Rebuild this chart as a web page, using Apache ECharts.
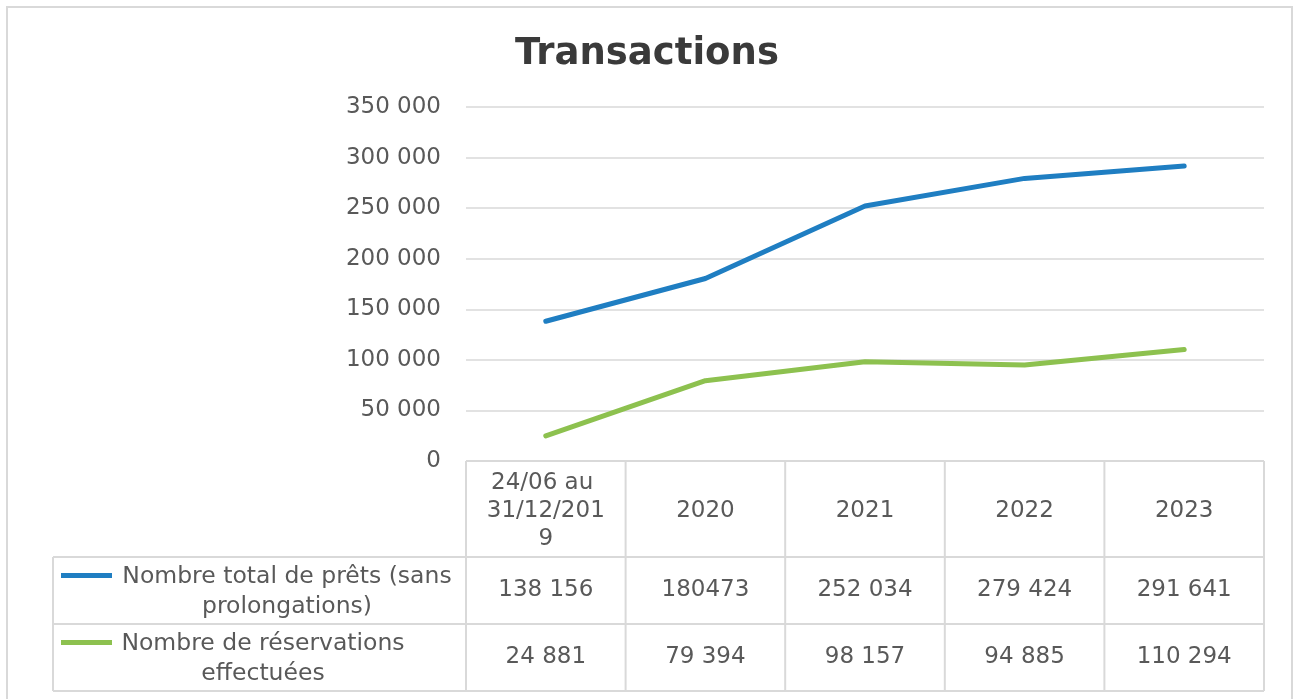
<!DOCTYPE html>
<html>
	<head>
		<meta charset="utf-8" />
		<script src="https://cdn.jsdelivr.net/npm/echarts@6/dist/echarts.min.js"></script>
		<title>Transactions</title>
		<style>
			* { margin: 0; padding: 0; }
			body { background: #ffffff; }
			#chart { width: 1294px; height: 699px; }
		</style>
	</head>
	<body>
		<div id="chart"></div>
		<script>
			var categories = ['24/06 au 31/12/2019', '2020', '2021', '2022', '2023'];
			var seriesNames = ['Nombre total de prêts (sans\nprolongations)', 'Nombre de réservations\neffectuées'];
			var prets = [138156, 180473, 252034, 279424, 291641];
			var reservations = [24881, 79394, 98157, 94885, 110294];
			// texts as printed in the data table
			var pretsLabels = ['138 156', '180473', '252 034', '279 424', '291 641'];
			var reservationsLabels = ['24 881', '79 394', '98 157', '94 885', '110 294'];

			var colors = ['#1f7ec2', '#8dc14f'];
			var gridColor = '#d9d9d9';
			var textColor = '#595959';
			var font = 'DejaVu Sans, Verdana, sans-serif';

			function fmt(v) {
				return String(v).replace(/\B(?=(\d{3})+(?!\d))/g, ' ');
			}

			var chart = echarts.init(document.getElementById('chart'));
			chart.setOption({
				animation: false,
				title: {
					text: 'Transactions',
					left: 'center',
					top: 31,
					textStyle: { color: '#3a3a3a', fontSize: 37, fontWeight: 'bold', fontFamily: font }
				},
				grid: { left: 466, right: 30, top: 107, bottom: 238 },
				xAxis: {
					type: 'category',
					data: categories,
					boundaryGap: true,
					axisLine: { show: false },
					axisTick: { show: false },
					axisLabel: {
						interval: 0,
						margin: 50,
						verticalAlign: 'middle',
						width: 121,
						overflow: 'breakAll',
						lineHeight: 28,
						color: textColor,
						fontSize: 23,
						fontFamily: font
					}
				},
				yAxis: {
					type: 'value',
					min: 0,
					max: 350000,
					interval: 50000,
					axisLine: { show: false },
					axisTick: { show: false },
					splitLine: { lineStyle: { color: gridColor, width: 1.5 } },
					axisLabel: {
						margin: 25,
						color: textColor,
						fontSize: 23,
						fontFamily: font,
						formatter: fmt
					}
				},
				series: [
					{
						name: seriesNames[0], type: 'line', data: prets, showSymbol: false,
						lineStyle: { color: colors[0], width: 5, cap: 'round', join: 'round' }
					},
					{
						name: seriesNames[1], type: 'line', data: reservations, showSymbol: false,
						lineStyle: { color: colors[1], width: 5, cap: 'round', join: 'round' }
					}
				]
			});

			// data table under the plot
			function drawTable() {
				var x0 = chart.convertToPixel({ xAxisIndex: 0 }, 0);
				var band = chart.convertToPixel({ xAxisIndex: 0 }, 1) - x0;
				var yTop = chart.convertToPixel({ yAxisIndex: 0 }, 0);
				var rowH = [96, 67, 67];
				var tableLeft = 53;
				var xs = [];
				for (var k = 0; k <= categories.length; k++) xs.push(x0 - band / 2 + k * band);
				var ys = [yTop];
				for (var r = 0; r < rowH.length; r++) ys.push(ys[r] + rowH[r]);
				var lineStyle = { stroke: gridColor, lineWidth: 2 };
				var els = [];

				els.push({ type: 'rect', shape: { x: 7, y: 7, width: 1285, height: 720 },
					style: { fill: null, stroke: gridColor, lineWidth: 2 }, silent: true });

				els.push({ type: 'line', shape: { x1: xs[0], y1: ys[0], x2: xs[xs.length - 1], y2: ys[0] }, style: lineStyle });
				for (var i = 1; i < ys.length; i++) {
					els.push({ type: 'line', shape: { x1: tableLeft, y1: ys[i], x2: xs[xs.length - 1], y2: ys[i] }, style: lineStyle });
				}
				for (var j = 0; j < xs.length; j++) {
					els.push({ type: 'line', shape: { x1: xs[j], y1: ys[0], x2: xs[j], y2: ys[3] }, style: lineStyle });
				}
				els.push({ type: 'line', shape: { x1: tableLeft, y1: ys[1], x2: tableLeft, y2: ys[3] }, style: lineStyle });

				var rows = [pretsLabels, reservationsLabels];
				var nameX = [287, 263];
				for (var s = 0; s < rows.length; s++) {
					var cy = (ys[s + 1] + ys[s + 2]) / 2;
					for (var c = 0; c < rows[s].length; c++) {
						els.push({ type: 'text', x: chart.convertToPixel({ xAxisIndex: 0 }, c), y: cy,
							style: { text: rows[s][c], fill: textColor, font: '23px ' + font, align: 'center', verticalAlign: 'middle' } });
					}
					els.push({ type: 'line', shape: { x1: 61, y1: cy - 15, x2: 112, y2: cy - 15 },
						style: { stroke: colors[s], lineWidth: 5 } });
					els.push({ type: 'text', x: nameX[s], y: cy + 1,
						style: { text: seriesNames[s], fill: textColor, font: '23.5px ' + font, lineHeight: 30, align: 'center', verticalAlign: 'middle' } });
				}
				chart.setOption({ graphic: els });
			}
			drawTable();
		</script>
	</body>
</html>
